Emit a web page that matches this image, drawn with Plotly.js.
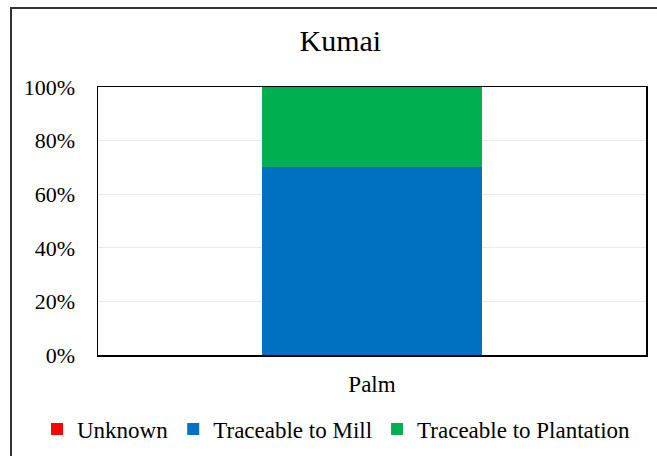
<!DOCTYPE html>
<html><head><meta charset="utf-8">
<script src="https://cdn.plot.ly/plotly-3.0.1.min.js"></script>
<style>body{margin:0;background:#fff}#wrap{position:relative;width:657px;height:456px}#frame{position:absolute;left:10px;top:7px;width:647px;height:449px;border-left:2px solid #333;border-top:2px solid #333;pointer-events:none}#chart{width:657px;height:456px}</style>
</head><body><div id="wrap"><div id="chart"></div><div id="frame"></div></div>
<script>
const categories = ['Palm'];
const seriesNames = ['Unknown', 'Traceable to Mill', 'Traceable to Plantation'];
const unknownVals = [0];
const millVals = [0.70];
const plantationVals = [0.30];
const colors = ['#FF0000', '#0070C0', '#00B050'];
const yTickVals = [0, 0.2, 0.4, 0.6, 0.8, 1.0];
const yTickText = ['0%', '20%', '40%', '60%', '80%', '100%'];

const vals = [unknownVals, millVals, plantationVals];
const traces = seriesNames.map((n, i) => ({
  type: 'bar', name: n, x: categories, y: vals[i],
  marker: {color: colors[i]}, hoverinfo: 'skip'
}));
const fam = 'Liberation Serif';
const layout = {
  width: 657, height: 456,
  margin: {l: 98, r: 11, t: 87, b: 101, autoexpand: false},
  barmode: 'stack', bargap: 0.6,
  paper_bgcolor: '#fff', plot_bgcolor: '#fff',
  font: {family: fam, size: 22, color: '#000'},
  title: {text: 'Kumai', font: {family: fam, size: 30, color: '#000'}, x: 0.518, xanchor: 'center', y: 0.912, yanchor: 'middle', xref: 'container'},
  xaxis: {showline: true, mirror: true, linecolor: '#000', linewidth: 1.5, ticks: '', tickfont: {family: fam, size: 23, color: '#000'}, ticklabelstandoff: 8, automargin: false},
  yaxis: {range: [0, 1], tickvals: yTickVals, ticktext: yTickText, showline: true, mirror: true, linecolor: '#000', linewidth: 1.5,
    gridcolor: '#ebebeb', gridwidth: 1, zeroline: false, ticks: '', ticklabelstandoff: 17, tickfont: {family: fam, size: 22, color: '#000'}, automargin: false},
  showlegend: true,
  legend: {orientation: 'h', x: -0.1113, xanchor: 'left', y: -0.276, yanchor: 'middle',
    bgcolor: 'rgba(0,0,0,0)', font: {family: fam, size: 23, color: '#000'}, traceorder: 'normal', itemwidth: 30}
};
Plotly.newPlot('chart', traces, layout, {displayModeBar: false, staticPlot: true});
</script></body></html>
